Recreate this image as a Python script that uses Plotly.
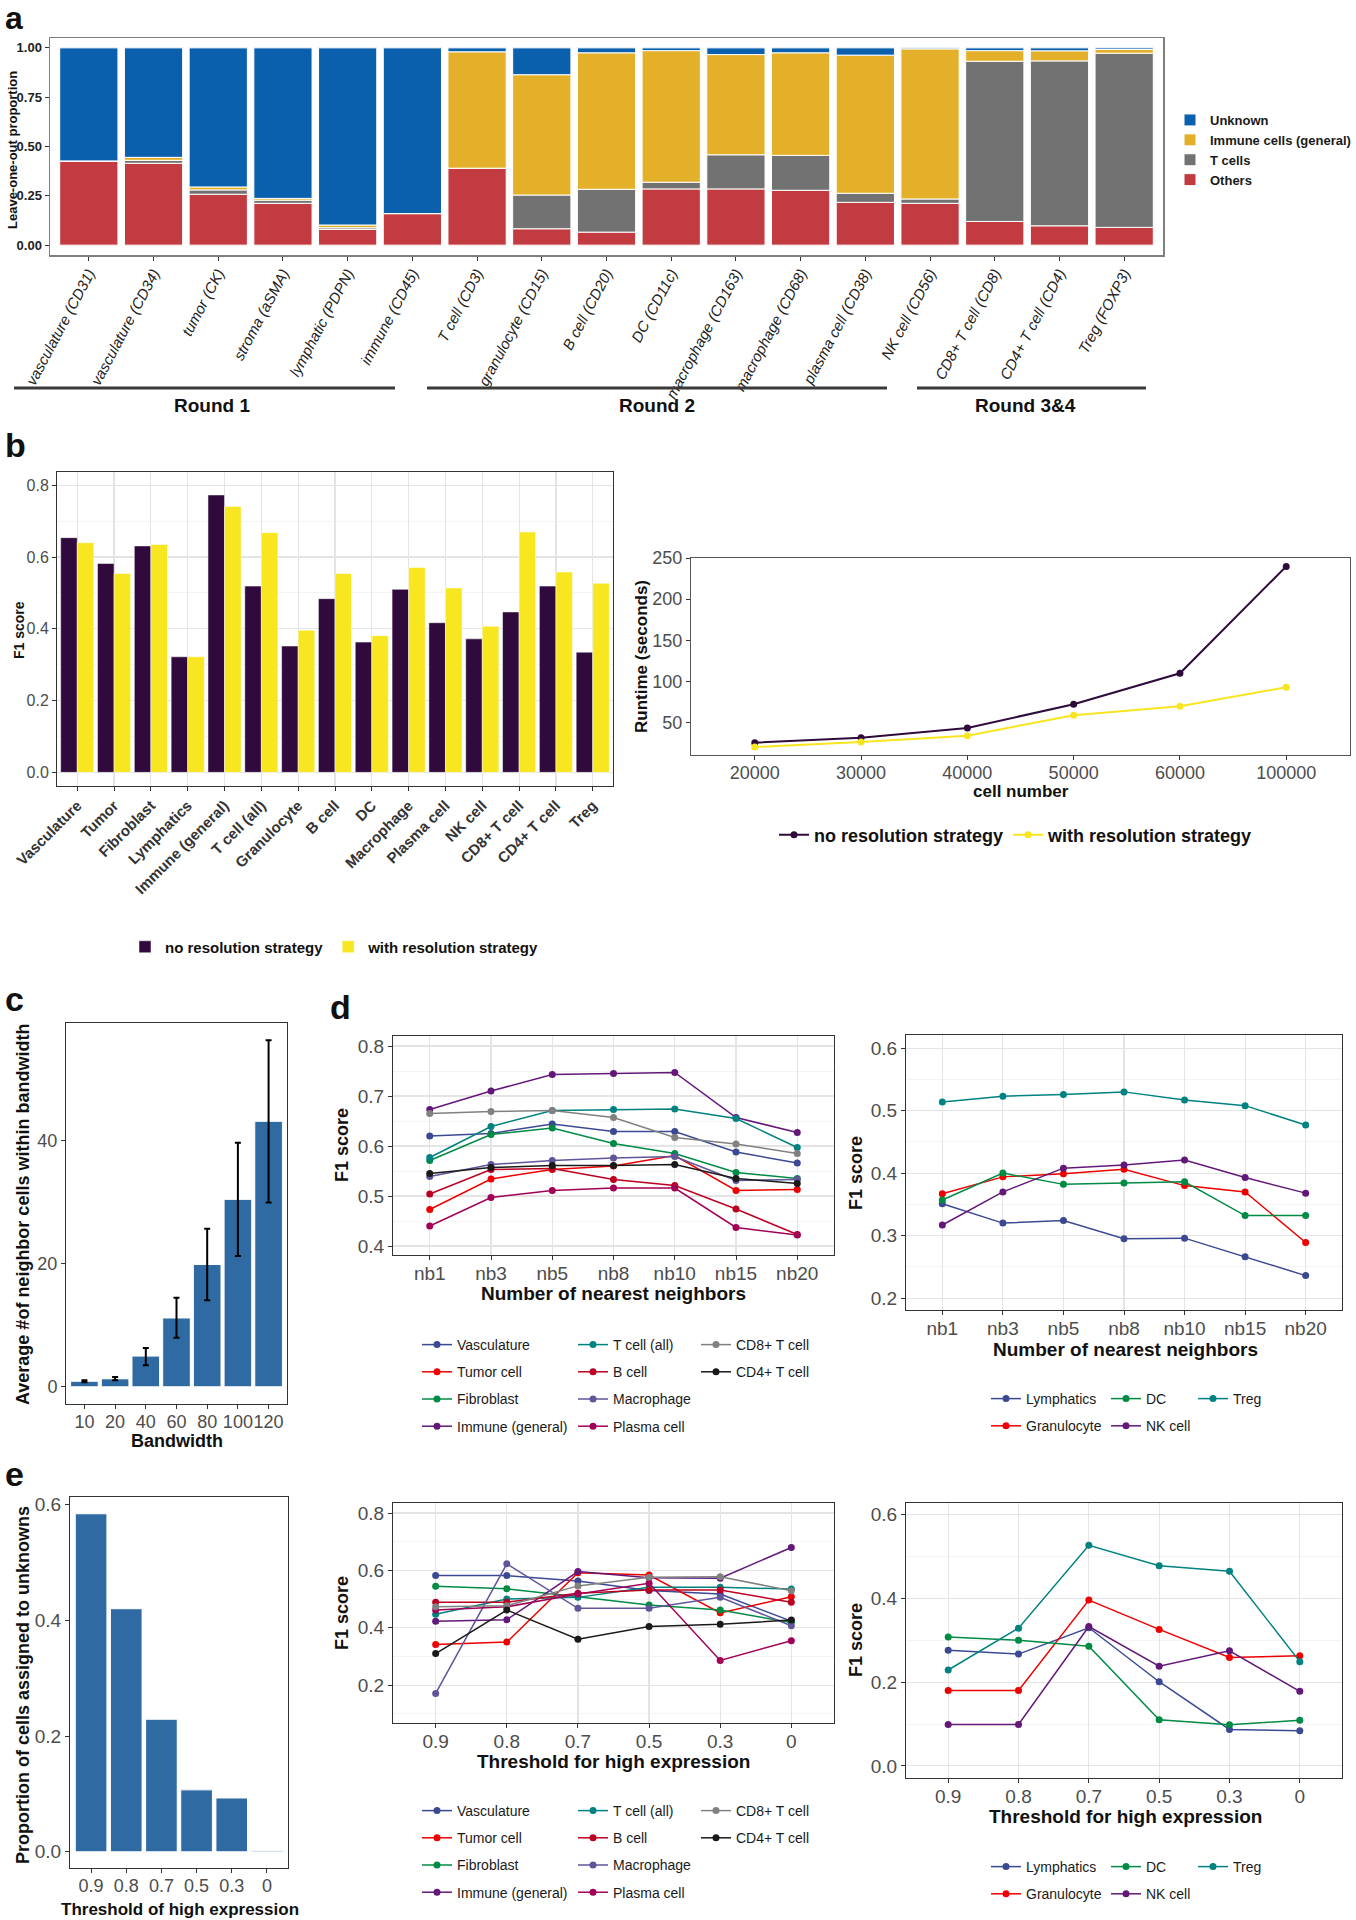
import numpy as np
import plotly.graph_objects as go

W, H = 1356, 1920
FONT = "Liberation Sans, Arial, Helvetica, sans-serif"

# ---------------- data ----------------
# panel a
a_categories = ["vasculature (CD31)", "vasculature (CD34)", "tumor (CK)", "stroma (aSMA)",
                "lymphatic (PDPN)", "immune (CD45)", "T cell (CD3)", "granulocyte (CD15)",
                "B cell (CD20)", "DC (CD11c)", "macrophage (CD163)", "macrophage (CD68)",
                "plasma cell (CD38)", "NK cell (CD56)", "CD8+ T cell (CD8)", "CD4+ T cell (CD4)",
                "Treg (FOXP3)"]
a_others = [0.427, 0.415, 0.258, 0.212, 0.080, 0.160, 0.390, 0.083, 0.066, 0.285, 0.285,
            0.278, 0.217, 0.212, 0.120, 0.098, 0.090]
a_tcells = [0.000, 0.015, 0.022, 0.016, 0.008, 0.000, 0.000, 0.171, 0.217, 0.034, 0.173,
            0.177, 0.046, 0.022, 0.812, 0.836, 0.883]
a_immune = [0.000, 0.015, 0.015, 0.009, 0.014, 0.000, 0.590, 0.610, 0.692, 0.667, 0.508,
            0.520, 0.700, 0.761, 0.054, 0.051, 0.019]
a_unknown = [0.573, 0.555, 0.705, 0.763, 0.898, 0.840, 0.020, 0.136, 0.025, 0.014, 0.034,
             0.025, 0.037, 0.005, 0.014, 0.015, 0.008]
a_rounds = ["Round 1", "Round 2", "Round 3&4"]

# panel b
b_types = ["Vasculature", "Tumor", "Fibroblast", "Lymphatics", "Immune (general)", "T cell (all)",
           "Granulocyte", "B cell", "DC", "Macrophage", "Plasma cell", "NK cell", "CD8+ T cell",
           "CD4+ T cell", "Treg"]
b_f1_no_res = [0.654, 0.582, 0.631, 0.322, 0.773, 0.519, 0.352, 0.484, 0.363, 0.510, 0.417,
               0.372, 0.447, 0.519, 0.335]
b_f1_with_res = [0.640, 0.554, 0.635, 0.322, 0.741, 0.668, 0.396, 0.554, 0.381, 0.571, 0.514,
                 0.407, 0.670, 0.558, 0.527]
b_cell_numbers = ["20000", "30000", "40000", "50000", "60000", "100000"]
b_runtime_no_res = [25.7, 31.8, 43.5, 72.3, 110.0, 239.8]
b_runtime_with_res = [20.4, 26.5, 34.2, 58.9, 69.9, 93.0]

# panel c
c_bandwidth = ["10", "20", "40", "60", "80", "100", "120"]
c_mean = [0.9, 1.3, 5.0, 11.2, 19.9, 30.5, 43.2]
c_low = [0.75, 1.05, 3.5, 8.0, 14.1, 21.3, 30.0]
c_high = [1.05, 1.6, 6.3, 14.5, 25.7, 39.7, 56.4]

# panel d
d_neighbors = ["nb1", "nb3", "nb5", "nb8", "nb10", "nb15", "nb20"]
d_vasculature = [0.620, 0.625, 0.644, 0.629, 0.629, 0.588, 0.566]
d_tumor = [0.473, 0.534, 0.553, 0.560, 0.581, 0.511, 0.513]
d_fibroblast = [0.571, 0.623, 0.636, 0.605, 0.585, 0.547, 0.535]
d_immune = [0.673, 0.710, 0.743, 0.745, 0.747, 0.657, 0.627]
d_tcell_all = [0.577, 0.639, 0.671, 0.673, 0.674, 0.655, 0.597]
d_bcell = [0.504, 0.553, 0.555, 0.533, 0.521, 0.474, 0.423]
d_macrophage = [0.539, 0.563, 0.571, 0.576, 0.579, 0.531, 0.533]
d_plasma = [0.440, 0.497, 0.511, 0.516, 0.516, 0.437, 0.422]
d_cd8 = [0.665, 0.669, 0.671, 0.657, 0.617, 0.604, 0.585]
d_cd4 = [0.545, 0.557, 0.561, 0.561, 0.563, 0.535, 0.525]
d_lymphatics = [0.351, 0.320, 0.324, 0.295, 0.296, 0.266, 0.236]
d_granulocyte = [0.367, 0.394, 0.399, 0.406, 0.380, 0.370, 0.289]
d_dc = [0.357, 0.400, 0.382, 0.384, 0.386, 0.332, 0.332]
d_nkcell = [0.317, 0.370, 0.408, 0.413, 0.421, 0.393, 0.368]
d_treg = [0.514, 0.523, 0.526, 0.530, 0.517, 0.508, 0.477]

# panel e
e_thresholds = ["0.9", "0.8", "0.7", "0.5", "0.3", "0"]
e_unknown_prop = [0.584, 0.420, 0.229, 0.107, 0.093, 0.002]
e_vasculature = [0.582, 0.582, 0.563, 0.530, 0.518, 0.423]
e_tumor = [0.342, 0.350, 0.592, 0.584, 0.452, 0.508]
e_fibroblast = [0.545, 0.536, 0.508, 0.479, 0.462, 0.418]
e_immune = [0.423, 0.428, 0.596, 0.574, 0.573, 0.680]
e_tcell_all = [0.447, 0.500, 0.506, 0.541, 0.541, 0.535]
e_bcell = [0.489, 0.489, 0.520, 0.532, 0.532, 0.489]
e_macrophage = [0.171, 0.623, 0.468, 0.468, 0.506, 0.407]
e_plasma = [0.462, 0.473, 0.518, 0.555, 0.286, 0.355]
e_cd8 = [0.473, 0.477, 0.546, 0.576, 0.578, 0.529]
e_cd4 = [0.310, 0.462, 0.360, 0.404, 0.412, 0.427]
e_lymphatics = [0.276, 0.267, 0.330, 0.201, 0.087, 0.084]
e_granulocyte = [0.180, 0.180, 0.396, 0.326, 0.259, 0.263]
e_dc = [0.308, 0.300, 0.286, 0.110, 0.098, 0.109]
e_nkcell = [0.099, 0.099, 0.333, 0.238, 0.275, 0.178]
e_treg = [0.229, 0.329, 0.527, 0.478, 0.465, 0.249]

# ---------------- styles ----------------
COL_UNK, COL_IMM, COL_T, COL_OTH = "#0B60AD", "#E4B02A", "#727272", "#C13B41"
COL_NO, COL_WITH = "#300A3C", "#F7E620"
COL_BAR = "#2F6AA2"
AAAS = {"Vasculature": "#3B4992", "Tumor cell": "#EE0000", "Fibroblast": "#008B45",
        "Immune (general)": "#631879", "T cell (all)": "#008280", "B cell": "#BB0021",
        "Macrophage": "#5F559B", "Plasma cell": "#A20056", "CD8+ T cell": "#808180",
        "CD4+ T cell": "#1B1919", "Lymphatics": "#3B4992", "Granulocyte": "#EE0000",
        "DC": "#008B45", "NK cell": "#631879", "Treg": "#008280"}
GRID, MINOR = "#E4E4E4", "#F1F1F1"
TICK_GREY = "#4D4D4D"


def xdom(l, r):
    return [l / W, r / W]


def ydom(t, b):
    return [1 - b / H, 1 - t / H]


def axis(dom, anchor, **kw):
    d = dict(domain=dom, anchor=anchor, showline=True, mirror=True, linecolor="#333333",
             linewidth=1, ticks="outside", ticklen=4, tickwidth=1, tickcolor="#333333",
             showgrid=False, zeroline=False, automargin=False, fixedrange=True)
    d.update(kw)
    return d


def tf(size, color=TICK_GREY, weight="normal", style="normal"):
    return dict(family=FONT, size=size, color=color, weight=weight, style=style)


fig = go.Figure()

# ---------- panel a ----------
cum = np.zeros(len(a_categories))
for name, vals, col in [("Others", a_others, COL_OTH), ("T cells", a_tcells, COL_T),
                        ("Immune cells (general)", a_immune, COL_IMM), ("Unknown", a_unknown, COL_UNK)]:
    fig.add_trace(go.Bar(x=a_categories, y=vals, base=cum.tolist(), name=name, offsetgroup="a",
                         marker=dict(color=col, line=dict(color="white", width=1)),
                         xaxis="x", yaxis="y", legend="legend"))
    cum = cum + np.array(vals)

# ---------- panel b left ----------
fig.add_trace(go.Bar(x=b_types, y=b_f1_no_res, name="no resolution strategy", offsetgroup="no",
                     marker=dict(color=COL_NO, line=dict(color="white", width=0.5)),
                     xaxis="x2", yaxis="y2", legend="legend2"))
fig.add_trace(go.Bar(x=b_types, y=b_f1_with_res, name="with resolution strategy", offsetgroup="with",
                     marker=dict(color=COL_WITH, line=dict(color="white", width=0.5)),
                     xaxis="x2", yaxis="y2", legend="legend2"))

# ---------- panel b right ----------
fig.add_trace(go.Scatter(x=b_cell_numbers, y=b_runtime_no_res, name="no resolution strategy",
                         mode="lines+markers", line=dict(color="#2E0B3A", width=2),
                         marker=dict(size=7, color="#2E0B3A"), xaxis="x3", yaxis="y3", legend="legend3"))
fig.add_trace(go.Scatter(x=b_cell_numbers, y=b_runtime_with_res, name="with resolution strategy",
                         mode="lines+markers", line=dict(color="#F9E51F", width=2),
                         marker=dict(size=7, color="#F9E51F"), xaxis="x3", yaxis="y3", legend="legend3"))

# ---------- panel c ----------
c_plus = (np.array(c_high) - np.array(c_mean)).tolist()
c_minus = (np.array(c_mean) - np.array(c_low)).tolist()
fig.add_trace(go.Bar(x=c_bandwidth, y=c_mean, marker=dict(color=COL_BAR, line=dict(color="white", width=1)),
                     error_y=dict(type="data", symmetric=False, array=c_plus, arrayminus=c_minus,
                                  color="black", thickness=2, width=3),
                     showlegend=False, xaxis="x4", yaxis="y4"))

# ---------- panels d and e (lines) ----------
d_left = [("Vasculature", d_vasculature, "legend4"), ("Tumor cell", d_tumor, "legend4"),
          ("Fibroblast", d_fibroblast, "legend4"), ("Immune (general)", d_immune, "legend4"),
          ("T cell (all)", d_tcell_all, "legend5"), ("B cell", d_bcell, "legend5"),
          ("Macrophage", d_macrophage, "legend5"), ("Plasma cell", d_plasma, "legend5"),
          ("CD8+ T cell", d_cd8, "legend6"), ("CD4+ T cell", d_cd4, "legend6")]
d_right = [("Lymphatics", d_lymphatics, "legend7"), ("Granulocyte", d_granulocyte, "legend7"),
           ("DC", d_dc, "legend8"), ("NK cell", d_nkcell, "legend8"), ("Treg", d_treg, "legend9")]
e_mid = [("Vasculature", e_vasculature, "legend10"), ("Tumor cell", e_tumor, "legend10"),
         ("Fibroblast", e_fibroblast, "legend10"), ("Immune (general)", e_immune, "legend10"),
         ("T cell (all)", e_tcell_all, "legend11"), ("B cell", e_bcell, "legend11"),
         ("Macrophage", e_macrophage, "legend11"), ("Plasma cell", e_plasma, "legend11"),
         ("CD8+ T cell", e_cd8, "legend12"), ("CD4+ T cell", e_cd4, "legend12")]
e_right = [("Lymphatics", e_lymphatics, "legend13"), ("Granulocyte", e_granulocyte, "legend13"),
           ("DC", e_dc, "legend14"), ("NK cell", e_nkcell, "legend14"), ("Treg", e_treg, "legend15")]

for series, xs, xa, ya, tag in [(d_left, d_neighbors, "x5", "y5", "dl"), (d_right, d_neighbors, "x6", "y6", "dr"),
                                (e_mid, e_thresholds, "x8", "y8", "em"), (e_right, e_thresholds, "x9", "y9", "er")]:
    for name, vals, lg in series:
        fig.add_trace(go.Scatter(x=xs, y=vals, name=name, mode="lines+markers",
                                 line=dict(color=AAAS[name], width=1.5),
                                 marker=dict(size=7, color=AAAS[name]),
                                 legendgroup=tag + name, xaxis=xa, yaxis=ya, legend=lg))

# ---------- panel e left ----------
fig.add_trace(go.Bar(x=e_thresholds, y=e_unknown_prop,
                     marker=dict(color=COL_BAR, line=dict(color="white", width=1)),
                     showlegend=False, xaxis="x7", yaxis="y7"))

# ---------------- axes ----------------
grid_x = dict(showgrid=True, gridcolor=GRID, gridwidth=1.2)
XS = dict(ticklabelstandoff=-3)


def grid_y(minor_dtick):
    return dict(showgrid=True, gridcolor=GRID, gridwidth=1.2,
                minor=dict(dtick=minor_dtick, showgrid=True, gridcolor=MINOR, gridwidth=0.8, ticks=""))


layout_axes = dict(
    # a
    xaxis=axis(xdom(50, 1163), "y", type="category", range=[-0.6, 16.6], tickangle=-62,
               tickfont=tf(15, "#222222", style="italic"), linecolor="#7F7F7F", linewidth=1.5,
               ticklabelstandoff=-2),
    yaxis=axis(ydom(38, 255), "x", range=[-0.05, 1.05], tickvals=[0, 0.25, 0.5, 0.75, 1.0],
               tickformat=".2f", tickfont=tf(13, "#222222", weight="bold"), linecolor="#7F7F7F", linewidth=1.5),
    # b left
    xaxis2=axis(xdom(57, 613), "y2", type="category", range=[-0.55, 14.55], tickangle=-45,
                tickfont=tf(15, "#333333", weight="bold"), **grid_x),
    yaxis2=axis(ydom(472, 786), "x2", range=[-0.038, 0.837], dtick=0.2, tick0=0, tickformat=".1f",
                tickfont=tf(16), **grid_y(0.1)),
    # b right
    xaxis3=axis(xdom(691, 1350), "y3", type="category", range=[-0.6, 5.6], tickangle=0, tickfont=tf(18),
                linecolor="#555555", **XS),
    yaxis3=axis(ydom(558, 755), "x3", range=[10.7, 250], tickvals=[50, 100, 150, 200, 250],
                tickfont=tf(18), linecolor="#555555"),
    # c
    xaxis4=axis(xdom(66, 287), "y4", type="category", range=[-0.6, 6.6], tickangle=0, tickfont=tf(18), **XS),
    yaxis4=axis(ydom(1023, 1404), "x4", range=[-2.8, 59.2], tickvals=[0, 20, 40], tickfont=tf(18)),
    # d left
    xaxis5=axis(xdom(393, 834), "y5", type="category", range=[-0.6, 6.6], tickangle=0, tickfont=tf(19),
                **grid_x, **XS),
    yaxis5=axis(ydom(1036, 1255), "x5", range=[0.382, 0.82], dtick=0.1, tick0=0, tickformat=".1f",
                tickfont=tf(19), **grid_y(0.05)),
    # d right
    xaxis6=axis(xdom(906, 1342), "y6", type="category", range=[-0.6, 6.6], tickangle=0, tickfont=tf(19),
                **grid_x, **XS),
    yaxis6=axis(ydom(1035, 1310), "x6", range=[0.181, 0.621], dtick=0.1, tick0=0, tickformat=".1f",
                tickfont=tf(19), **grid_y(0.05)),
    # e left
    xaxis7=axis(xdom(70, 288), "y7", type="category", range=[-0.6, 5.6], tickangle=0, tickfont=tf(18), **XS),
    yaxis7=axis(ydom(1497, 1868), "x7", range=[-0.028, 0.613], dtick=0.2, tick0=0, tickformat=".1f",
                tickfont=tf(19)),
    # e middle
    xaxis8=axis(xdom(393, 834), "y8", type="category", range=[-0.6, 5.6], tickangle=0, tickfont=tf(19),
                **grid_x, **XS),
    yaxis8=axis(ydom(1503, 1723), "x8", range=[0.068, 0.835], tickvals=[0.2, 0.4, 0.6, 0.8],
                tickformat=".1f", tickfont=tf(19), **grid_y(0.1)),
    # e right
    xaxis9=axis(xdom(906, 1342), "y9", type="category", range=[-0.6, 5.6], tickangle=0, tickfont=tf(19),
                **grid_x, **XS),
    yaxis9=axis(ydom(1503, 1778), "x9", range=[-0.029, 0.628], dtick=0.2, tick0=0, tickformat=".1f",
                tickfont=tf(19), **grid_y(0.1)),
)


# ---------------- legends ----------------
def vleg(sym_x, top_y, size=14, weight="normal", gap=6, **kw):
    d = dict(x=(sym_x - 20) / W, y=1 - top_y / H, xanchor="left", yanchor="top", orientation="v",
             bgcolor="rgba(0,0,0,0)", font=dict(family=FONT, size=size, color="#1A1A1A", weight=weight),
             tracegroupgap=gap, itemclick=False, itemdoubleclick=False)
    d.update(kw)
    return d


def hleg(sym_x, mid_y, size):
    return dict(x=(sym_x - 20) / W, y=1 - mid_y / H, xanchor="left", yanchor="middle", orientation="h",
                bgcolor="rgba(0,0,0,0)", font=dict(family=FONT, size=size, color="#111111", weight="bold"),
                itemclick=False, itemdoubleclick=False)


legends = dict(
    legend=vleg(1190, 105, size=13, weight="bold", gap=0, traceorder="reversed"),
    legend2=hleg(145, 947, 15),
    legend3=hleg(794, 835, 18),
    legend4=vleg(437, 1329), legend5=vleg(593, 1329), legend6=vleg(716, 1329),
    legend7=vleg(1006, 1383), legend8=vleg(1126, 1383), legend9=vleg(1213, 1383),
    legend10=vleg(437, 1795), legend11=vleg(593, 1795), legend12=vleg(716, 1795),
    legend13=vleg(1006, 1851), legend14=vleg(1126, 1851), legend15=vleg(1213, 1851),
)


# ---------------- annotations ----------------
def txt(x, y, s, size, weight="bold", angle=0, color="#111111"):
    return dict(xref="paper", yref="paper", x=x / W, y=1 - y / H, text=s, showarrow=False,
                textangle=angle, xanchor="center", yanchor="middle",
                font=dict(family=FONT, size=size, color=color, weight=weight))


annotations = [
    txt(14, 18, "a", 32), txt(15, 445, "b", 34), txt(14, 999, "c", 34), txt(340, 1007, "d", 34),
    txt(14, 1474, "e", 34),
    txt(12, 150, "Leave-one-out proportion", 13, angle=-90),
    txt(212, 405, a_rounds[0], 19), txt(657, 405, a_rounds[1], 19), txt(1025, 405, a_rounds[2], 19),
    txt(19, 630, "F1 score", 14, angle=-90),
    txt(641, 657, "Runtime (seconds)", 17, angle=-90),
    txt(1021, 791, "cell number", 17),
    txt(23, 1215, "Average #of neighbor cells within bandwidth", 18, angle=-90),
    txt(177, 1441, "Bandwidth", 18),
    txt(342, 1145, "F1 score", 18, angle=-90),
    txt(613, 1293, "Number of nearest neighbors", 19),
    txt(856, 1173, "F1 score", 18, angle=-90),
    txt(1125, 1349, "Number of nearest neighbors", 19),
    txt(23, 1685, "Proportion of cells assigned to unknowns", 18, angle=-90),
    txt(180, 1909, "Threshold of high expression", 17),
    txt(342, 1613, "F1 score", 18, angle=-90),
    txt(613, 1761, "Threshold for high expression", 19),
    txt(856, 1640, "F1 score", 18, angle=-90),
    txt(1125, 1816, "Threshold for high expression", 19),
]

shapes = []
for x0, x1 in [(14, 395), (427, 887), (917, 1146)]:
    shapes.append(dict(type="line", xref="paper", yref="paper", x0=x0 / W, x1=x1 / W,
                       y0=1 - 388 / H, y1=1 - 388 / H, line=dict(color="#3A3A3A", width=3)))

fig.update_layout(
    width=W, height=H, margin=dict(l=0, r=0, t=0, b=0), autosize=False,
    paper_bgcolor="white", plot_bgcolor="white",
    font=dict(family=FONT, color="#111111"),
    barmode="group", bargap=0.1, bargroupgap=0.0,
    annotations=annotations, shapes=shapes, hovermode=False,
    **layout_axes, **legends,
)

fig.write_html("out.html", include_plotlyjs=True, full_html=True,
               config={"displayModeBar": False, "staticPlot": True},
               post_script="document.body.style.margin='0';document.body.style.padding='0';")
